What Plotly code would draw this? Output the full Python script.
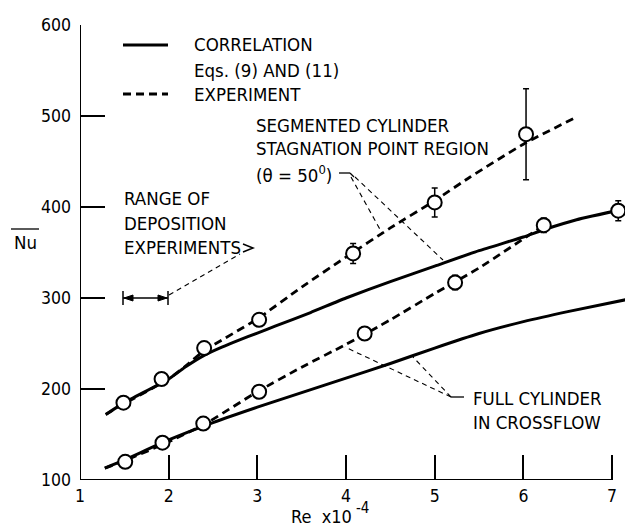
import plotly.graph_objects as go

# ---------------- data ----------------
# Correlation curves (solid)
seg_corr_x = [1.29, 1.5, 2.0, 2.2, 2.4, 2.6, 2.8, 3.0, 3.2, 3.6, 4.0, 4.5, 5.0, 5.5, 6.0, 6.23, 6.6, 7.15]
seg_corr_y = [172, 185, 211, 225, 237, 246, 254, 261.5, 269, 284, 300, 318, 335, 352, 367, 375, 386, 398]
full_corr_x = [1.28, 1.5, 2.0, 2.5, 3.0, 3.5, 4.0, 4.5, 5.0, 5.5, 6.0, 6.5, 7.15]
full_corr_y = [113, 122, 144, 163, 180, 196, 212, 228, 245, 261, 274, 285, 298]

# Experiment curves (dashed)
seg_exp_x = [1.29, 1.5, 2.0, 2.2, 2.4, 3.0, 3.5, 4.0, 4.5, 5.0, 5.4, 6.0, 6.58]
seg_exp_y = [172, 184, 211, 226, 242, 277, 312, 345, 377, 407, 433, 469, 498]
full_exp_x = [1.28, 1.5, 2.0, 2.4, 3.0, 3.5, 4.0, 4.5, 5.0, 5.5, 6.2]
full_exp_y = [113, 121, 142, 161, 197, 224, 249, 276, 305, 333, 378]

# Experimental points with error bars
seg_pts_x = [1.49, 1.92, 2.40, 3.02, 4.08, 5.0, 6.03]
seg_pts_y = [185, 211, 245, 276, 349, 405, 480]
seg_pts_err = [6, 6, 6, 6, 11, 16, 50]
full_pts_x = [1.51, 1.93, 2.39, 3.02, 4.21, 5.23, 6.23, 7.07]
full_pts_y = [120, 141, 162, 197, 261, 317, 380, 396]
full_pts_err = [6, 6, 6, 6, 4, 8, 8, 11]

x_ticks = [1, 2, 3, 4, 5, 6, 7]
y_ticks = [100, 200, 300, 400, 500, 600]

# ---------------- geometry helpers (pixel -> data / paper) ----------------
W, H = 625, 529
L, R, T, B = 80, 0, 25, 49
PW, PH = W - L - R, H - T - B
XMIN, XMAX = 1.0, 7.146
YMIN, YMAX = 100, 600
XS = PW / (XMAX - XMIN)
YS = PH / (YMAX - YMIN)


def dx(p):
    return XMIN + (p - L) / XS


def dy(p):
    return YMIN + (H - B - p) / YS


def px_(p):
    return (p - L) / PW


def py_(p):
    return (H - B - p) / PH


FONT = "DejaVu Sans Condensed, Liberation Sans Narrow, DejaVu Sans, sans-serif"
TXT = 18.5
TICK = 17.5

fig = go.Figure()

fig.add_trace(go.Scatter(x=seg_corr_x, y=seg_corr_y, mode="lines",
                         line=dict(color="black", width=3, shape="spline", smoothing=0.5),
                         showlegend=False))
fig.add_trace(go.Scatter(x=full_corr_x, y=full_corr_y, mode="lines",
                         line=dict(color="black", width=3, shape="spline", smoothing=0.5),
                         showlegend=False))
fig.add_trace(go.Scatter(x=seg_exp_x, y=seg_exp_y, mode="lines",
                         line=dict(color="black", width=2.8, dash="8px,5px", shape="spline", smoothing=0.5),
                         showlegend=False))
fig.add_trace(go.Scatter(x=full_exp_x, y=full_exp_y, mode="lines",
                         line=dict(color="black", width=2.8, dash="8px,5px", shape="spline", smoothing=0.5),
                         showlegend=False))

marker = dict(symbol="circle", size=14, color="white", line=dict(color="black", width=2))
fig.add_trace(go.Scatter(x=seg_pts_x, y=seg_pts_y, mode="markers", marker=marker,
                         error_y=dict(type="data", array=seg_pts_err, color="black",
                                      thickness=1.5, width=3),
                         showlegend=False))
fig.add_trace(go.Scatter(x=full_pts_x, y=full_pts_y, mode="markers", marker=marker,
                         error_y=dict(type="data", array=full_pts_err, color="black",
                                      thickness=1.5, width=3),
                         showlegend=False))

shapes = []


def seg(x0, y0, x1, y1, line):
    shapes.append(dict(type="line", xref="x", yref="y", x0=dx(x0), x1=dx(x1), y0=dy(y0), y1=dy(y1),
                       line=line))


# axis lines
shapes.append(dict(type="line", xref="x", yref="y", x0=1, x1=7, y0=100, y1=100,
                   line=dict(color="black", width=2)))
shapes.append(dict(type="line", xref="x", yref="y", x0=1, x1=1, y0=100, y1=600,
                   line=dict(color="black", width=2)))

# legend samples
seg(123, 45, 168, 45, dict(color="black", width=3))
seg(123, 94, 168, 94, dict(color="black", width=2.8, dash="8px,5px"))

solid_thin = dict(color="black", width=1.3)
thin = dict(color="black", width=1.1, dash="5px,4px")
# segmented cylinder leaders
seg(339, 173, 350, 173, solid_thin)
seg(350, 173, 354, 177, solid_thin)
seg(351, 177, 382, 233, thin)
seg(355, 177, 443, 260, thin)

# full cylinder leaders
seg(451, 397, 464, 397, solid_thin)
seg(451, 397, 345, 347, thin)
seg(451, 397, 413, 357, thin)

# range of deposition experiments bar
seg(123, 298, 168, 298, dict(color="black", width=1.5))
seg(123, 291, 123, 305, dict(color="black", width=1.5))
seg(168, 291, 168, 305, dict(color="black", width=1.5))
for tip, back in ((124, 133), (167, 158)):
    shapes.append(dict(type="path", xref="x", yref="y",
                       path="M %f,%f L %f,%f L %f,%f Z" % (dx(tip), dy(298), dx(back), dy(295),
                                                         dx(back), dy(301)),
                       fillcolor="black", line=dict(color="black", width=1)))
seg(169, 295, 240, 254, thin)
shapes.append(dict(type="path", xref="x", yref="y",
                   path="M %f,%f L %f,%f L %f,%f" % (dx(243), dy(244), dx(253), dy(248), dx(243), dy(252)),
                   line=dict(color="black", width=1.5)))

# overline for Nu (paper coords)
shapes.append(dict(type="line", xref="paper", yref="paper", x0=px_(11), x1=px_(39),
                   y0=py_(229), y1=py_(229), line=dict(color="black", width=1.3)))

annotations = []


def txt(text, xp, yp, size=TXT, anchor="left", yanchor="middle"):
    annotations.append(dict(text=text, x=px_(xp), y=py_(yp), xref="paper", yref="paper",
                            xanchor=anchor, yanchor=yanchor, showarrow=False,
                            font=dict(family=FONT, size=size, color="black")))


txt("CORRELATION", 192, 45)
txt("Eqs. (9) AND (11)", 192, 70)
txt("EXPERIMENT", 192, 94)
txt("SEGMENTED CYLINDER", 254, 125)
txt("STAGNATION POINT REGION", 254, 148)
txt("(θ = 50<sup>0</sup>)", 254, 174)
txt("RANGE OF", 122, 198)
txt("DEPOSITION", 122, 223)
txt("EXPERIMENTS", 122, 247)
txt("FULL CYLINDER", 471, 398)
txt("IN CROSSFLOW", 471, 422)
txt("Nu", 25, 243, anchor="center")
txt("Re  x10", 289, 529, size=18, yanchor="bottom")
txt("-4", 354, 508, size=15)

fig.update_layout(
    width=W, height=H,
    margin=dict(l=L, r=R, t=T, b=B, pad=0),
    paper_bgcolor="white", plot_bgcolor="white",
    shapes=shapes, annotations=annotations,
    font=dict(family=FONT, size=TXT, color="black"),
    xaxis=dict(range=[XMIN, XMAX], tickvals=x_ticks, ticktext=[str(v) for v in x_ticks],
               ticks="inside", ticklen=25, tickwidth=1.5, tickcolor="black",
               showline=False, showgrid=False, zeroline=False, ticklabelstandoff=3,
               tickfont=dict(family=FONT, size=TICK, color="black")),
    yaxis=dict(range=[YMIN, YMAX], tickvals=y_ticks, ticktext=[str(v) for v in y_ticks],
               ticks="inside", ticklen=25, tickwidth=1.5, tickcolor="black",
               showline=False, showgrid=False, zeroline=False, ticklabelstandoff=8,
               tickfont=dict(family=FONT, size=TICK, color="black")),
    showlegend=False,
)

fig.write_html("out.html")
